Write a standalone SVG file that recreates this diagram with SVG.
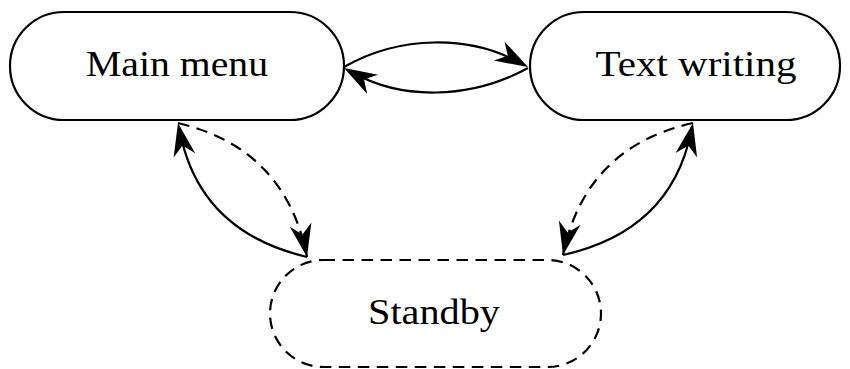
<svg xmlns="http://www.w3.org/2000/svg" width="850" height="369" viewBox="0 0 850 369">
<style>
.node{fill:#fff;stroke:#000;stroke-width:2.2}
.dash{stroke-dasharray:11.5 7.5}
.lbl{font-family:"Liberation Serif","DejaVu Serif",serif;font-size:35px;fill:#000;text-anchor:middle}
.edge{fill:none;stroke:#000;stroke-width:2.2}
.head{fill:#000}
</style>
<defs>
<path id="ah" d="M0,0 L-33,-11 L-23,0 L-33,11 Z"/>
</defs>
<g id="main-menu">
<rect class="node" x="10" y="12" width="334" height="108" rx="54" ry="54"/>
<text class="lbl" x="177" y="76" textLength="182" lengthAdjust="spacingAndGlyphs">Main menu</text>
</g>
<g id="text-writing">
<rect class="node" x="530" y="12" width="310" height="108" rx="54" ry="54"/>
<text class="lbl" x="696" y="76" textLength="201" lengthAdjust="spacingAndGlyphs">Text writing</text>
</g>
<g id="standby">
<rect class="node dash" x="270" y="260" width="331" height="107" rx="53.5" ry="53.5"/>
<text class="lbl" x="434" y="324" textLength="132" lengthAdjust="spacingAndGlyphs">Standby</text>
</g>
<g id="connectors">
<path class="edge" d="M344,67 C400,35 470,35 520,63"/>
<use href="#ah" class="head" transform="translate(528,67) rotate(29)"/>
<path class="edge" d="M528,68 C470,100 400,100 352,72"/>
<use href="#ah" class="head" transform="translate(344,68) rotate(209.7)"/>
<path class="edge" d="M307,257 Q199.5,231.6 180,132"/>
<use href="#ah" class="head" transform="translate(178,123) rotate(-101.2)"/>
<path class="edge dash" d="M178,123 Q285.5,148.4 307,257"/>
<use href="#ah" class="head" transform="translate(307,257) rotate(78.8)"/>
<path class="edge" d="M563,255 Q670.7,231 691,132"/>
<use href="#ah" class="head" transform="translate(693,123) rotate(-78.3)"/>
<path class="edge dash" d="M693,123 Q585.3,147 563,255"/>
<use href="#ah" class="head" transform="translate(563,255) rotate(101.7)"/>
</g>
</svg>
